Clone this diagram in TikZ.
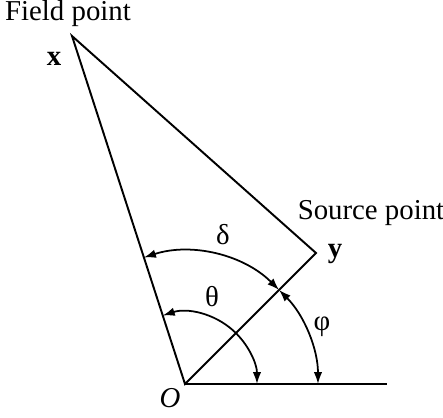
\documentclass[tikz,border=0pt]{standalone}
\usepackage{fontspec}
\setmainfont{Liberation Serif}
\usetikzlibrary{arrows.meta}

\begin{document}
\begin{tikzpicture}[
  x=0.1mm,y=0.1mm,
  font=\fontsize{8.2}{10}\selectfont,
  edge/.style={line width=0.55pt,black},
  axis/.style={line width=0.8pt,black},
  ang/.style={line width=0.5pt,{Latex[length=1.2mm,width=0.85mm]}-{Latex[length=1.2mm,width=0.85mm]}},
  lbl/.style={inner sep=1pt},
]
\useasboundingbox (0,0) rectangle (443,417);
% ===== points =====
\coordinate (O) at (185,33);
\coordinate (X) at (72,381);
\coordinate (Y) at (316,164);
\coordinate (E) at (387,33);

% ===== triangle and baseline =====
\draw[edge] (O) -- (X) -- (Y) -- cycle;
\draw[axis] (O) -- (E);

% ===== angles =====
\draw[ang] (O) ++(108:7.2mm) arc[start angle=108,end angle=0,radius=7.2mm];
\draw[ang] (O) ++(108:13.3mm) arc[start angle=108,end angle=45,radius=13.3mm];
\draw[ang] (O) ++(45:13.3mm) arc[start angle=45,end angle=0,radius=13.3mm];

% ===== labels =====
\node[lbl] (fp) at (68,403) {Field point};
\node[lbl] (xl) at (54,358) {\textbf{x}};
\node[lbl] (sp) at (371,204) {Source point};
\node[lbl] (yl) at (335,163) {\textbf{y}};
\node[lbl] (ol) at (170,19) {\textit{O}};
\node[lbl] (dl) at (223,182) {δ};
\node[lbl] (tl) at (212,120) {θ};
\node[lbl] (pl) at (322,90) {φ};
\end{tikzpicture}
\end{document}
